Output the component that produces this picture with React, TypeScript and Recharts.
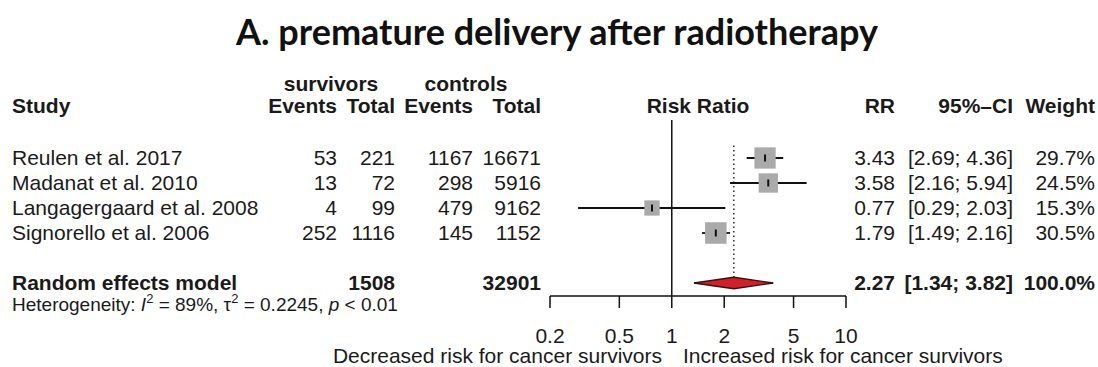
import {
  ComposedChart,
  XAxis,
  YAxis,
  Scatter,
  Area,
  ReferenceLine,
} from "recharts";

const STUDIES = ["Reulen et al. 2017", "Madanat et al. 2010", "Langagergaard et al. 2008", "Signorello et al. 2006"];
const SURV_EVENTS = [53, 13, 4, 252];
const SURV_TOTAL = [221, 72, 99, 1116];
const CTRL_EVENTS = [1167, 298, 479, 145];
const CTRL_TOTAL = [16671, 5916, 9162, 1152];
const RR = [3.43, 3.58, 0.77, 1.79];
const CI_LOW = [2.69, 2.16, 0.29, 1.49];
const CI_HIGH = [4.36, 5.94, 2.03, 2.16];
const WEIGHT = [29.7, 24.5, 15.3, 30.5];

const POOLED_RR = 2.27;
const POOLED_LOW = 1.34;
const POOLED_HIGH = 3.82;
const POOLED_SURV_TOTAL = 1508;
const POOLED_CTRL_TOTAL = 32901;
const I2 = 89;
const TAU2 = 0.2245;

const AXIS_TICKS = [0.2, 0.5, 1, 2, 5, 10];

const POOLED_ROW = 6;
const DIAMOND_HALF = 0.23;
const SQUARE_SCALE = 3.9;

const FONT = '"Liberation Sans", Arial, Helvetica, sans-serif';
const INK = "#1a1a1a";

const studyPoints = STUDIES.map((name, i) => ({ x: RR[i], y: i + 1, weight: WEIGHT[i], name }));
const diamondPoints = [
  { x: POOLED_LOW, band: [POOLED_ROW, POOLED_ROW] },
  { x: POOLED_RR, band: [POOLED_ROW - DIAMOND_HALF, POOLED_ROW + DIAMOND_HALF] },
  { x: POOLED_HIGH, band: [POOLED_ROW, POOLED_ROW] },
];

const StudySquare = (props: any) => {
  const { cx, cy, payload } = props;
  const side = SQUARE_SCALE * Math.sqrt(payload.weight);
  return (
    <g>
      <rect x={cx - side / 2} y={cy - side / 2} width={side} height={side} fill="#aaaaaa" />
      <line x1={cx} x2={cx} y1={cy - 3.5} y2={cy + 3.5} stroke="#111" strokeWidth={2} />
    </g>
  );
};

const rowBase = (i: number) => 165 + i * 25;

function TableText() {
  const t = { fontFamily: FONT, fontSize: 21, fill: INK } as const;
  const b = { ...t, fontWeight: 700 } as const;
  return (
    <svg width={1098} height={367} style={{ position: "absolute", left: 0, top: 0, pointerEvents: "none" }}>
      <text x={557} y={45} textAnchor="middle" fontFamily="Lato, 'Open Sans', sans-serif" fontWeight={700} fontSize={36} fill="#111">
        A. premature delivery after radiotherapy
      </text>

      <text {...b} x={331} y={91} textAnchor="middle">survivors</text>
      <text {...b} x={466} y={91} textAnchor="middle">controls</text>
      <text {...b} x={12} y={113}>Study</text>
      <text {...b} x={337} y={113} textAnchor="end">Events</text>
      <text {...b} x={395} y={113} textAnchor="end">Total</text>
      <text {...b} x={473} y={113} textAnchor="end">Events</text>
      <text {...b} x={541} y={113} textAnchor="end">Total</text>
      <text {...b} x={698} y={113} textAnchor="middle">Risk Ratio</text>
      <text {...b} x={895} y={113} textAnchor="end">RR</text>
      <text {...b} x={1013} y={113} textAnchor="end">95%–CI</text>
      <text {...b} x={1095} y={113} textAnchor="end">Weight</text>

      {STUDIES.map((name, i) => (
        <g key={name}>
          <text {...t} x={12} y={rowBase(i)}>{name}</text>
          <text {...t} x={337} y={rowBase(i)} textAnchor="end">{SURV_EVENTS[i]}</text>
          <text {...t} x={395} y={rowBase(i)} textAnchor="end">{SURV_TOTAL[i]}</text>
          <text {...t} x={473} y={rowBase(i)} textAnchor="end">{CTRL_EVENTS[i]}</text>
          <text {...t} x={541} y={rowBase(i)} textAnchor="end">{CTRL_TOTAL[i]}</text>
          <text {...t} x={895} y={rowBase(i)} textAnchor="end">{RR[i].toFixed(2)}</text>
          <text {...t} x={1013} y={rowBase(i)} textAnchor="end">
            [{CI_LOW[i].toFixed(2)}; {CI_HIGH[i].toFixed(2)}]
          </text>
          <text {...t} x={1095} y={rowBase(i)} textAnchor="end">{WEIGHT[i].toFixed(1)}%</text>
        </g>
      ))}

      <text {...b} x={12} y={290}>Random effects model</text>
      <text {...b} x={395} y={290} textAnchor="end">{POOLED_SURV_TOTAL}</text>
      <text {...b} x={541} y={290} textAnchor="end">{POOLED_CTRL_TOTAL}</text>
      <text {...b} x={895} y={290} textAnchor="end">{POOLED_RR.toFixed(2)}</text>
      <text {...b} x={1013} y={290} textAnchor="end">
        [{POOLED_LOW.toFixed(2)}; {POOLED_HIGH.toFixed(2)}]
      </text>
      <text {...b} x={1095} y={290} textAnchor="end">100.0%</text>

      <text {...t} fontSize={19} x={12} y={311}>
        Heterogeneity: <tspan fontStyle="italic">I</tspan>
        <tspan fontSize={13} dy={-8}>2</tspan>
        <tspan dy={8}> = {I2}%, τ</tspan>
        <tspan fontSize={13} dy={-8}>2</tspan>
        <tspan dy={8}> = {TAU2}, </tspan>
        <tspan fontStyle="italic">p</tspan> &lt; 0.01
      </text>

      <text {...t} x={662} y={363} textAnchor="end">Decreased risk for cancer survivors</text>
      <text {...t} x={683} y={363}>Increased risk for cancer survivors</text>
    </svg>
  );
}

export default function App() {
  return (
    <div style={{ position: "absolute", left: 0, top: 0, width: 1098, height: 367, background: "#fff" }}>
      <ComposedChart width={1098} height={367} margin={{ top: 120, right: 252, bottom: 11, left: 550 }}>
        <XAxis
          type="number"
          dataKey="x"
          scale="log"
          domain={[0.2, 10]}
          ticks={AXIS_TICKS}
          allowDataOverflow
          height={60}
          tickSize={12}
          tickMargin={20}
          interval={0}
          stroke="#111"
          strokeWidth={1.5}
          tick={{ fill: INK, fontSize: 21, fontFamily: FONT }}
          tickFormatter={(v: number) => String(v)}
        />
        <YAxis type="number" dataKey="y" domain={[-0.52, 6.52]} reversed allowDataOverflow hide width={0} />
        <ReferenceLine x={1} stroke="#111" strokeWidth={1.5} />
        <ReferenceLine
          segment={[{ x: POOLED_RR, y: 0.5 }, { x: POOLED_RR, y: POOLED_ROW - DIAMOND_HALF }]}
          stroke="#333"
          strokeWidth={1.5}
          strokeDasharray="1.5 3"
        />
        {STUDIES.map((name, i) => (
          <ReferenceLine
            key={name}
            segment={[{ x: CI_LOW[i], y: i + 1 }, { x: CI_HIGH[i], y: i + 1 }]}
            stroke="#111"
            strokeWidth={1.8}
          />
        ))}
        <Scatter data={studyPoints} shape={StudySquare} isAnimationActive={false} />
        <Area
          data={diamondPoints}
          dataKey="band"
          type="linear"
          fill="#d0202a"
          fillOpacity={1}
          stroke="#3a1010"
          strokeWidth={1.3}
          dot={false}
          activeDot={false}
          isAnimationActive={false}
        />
      </ComposedChart>
      <TableText />
    </div>
  );
}
